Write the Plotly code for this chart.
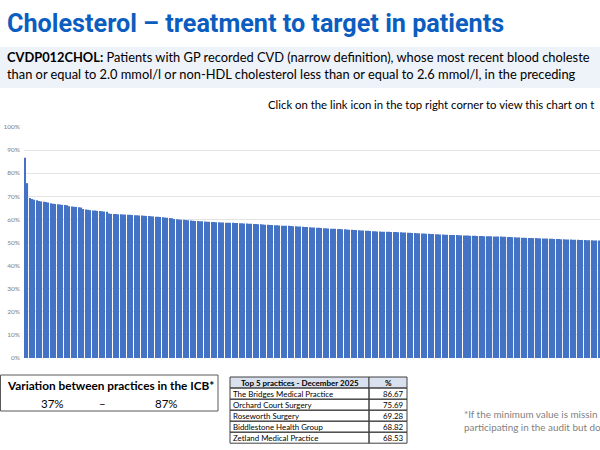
import plotly.graph_objects as go

# ---------------- data ----------------
values = [
    86.67, 75.69, 69.28, 68.82, 68.53,
    68.3, 68.0, 67.8, 67.6, 67.5, 67.3,
    67.0, 66.8, 66.7, 66.6, 66.5, 66.3, 66.2, 66.1,
    65.7, 65.6, 65.5, 65.4, 65.3, 65.2,
    64.5, 64.3, 64.2, 64.0, 63.9, 63.8, 63.7, 63.6, 63.5, 63.4, 63.3,
    62.6, 62.4, 62.3, 62.3, 62.2, 62.2, 62.1, 62.1, 62.0, 62.0, 61.9,
    61.8, 61.8, 61.7, 61.7, 61.6, 61.5, 61.5, 61.4, 61.3, 61.2, 61.1,
    61.0, 60.9, 60.8, 60.7, 60.6, 60.5,
    60.2, 60.1, 60.0, 59.9, 59.8, 59.7, 59.6, 59.5,
    59.4, 59.3, 59.3, 59.2, 59.2, 59.1, 59.0, 59.0, 58.9, 58.9,
    58.8, 58.8, 58.7, 58.7, 58.6, 58.6, 58.5, 58.5, 58.4, 58.4,
    58.3, 58.3, 58.2, 58.2, 58.1, 58.1, 58.0, 58.0, 57.9, 57.9,
    57.8, 57.7, 57.7, 57.6, 57.6, 57.5, 57.5, 57.4, 57.3, 57.3,
    57.2, 57.2, 57.1, 57.0, 57.0, 56.9, 56.9, 56.8, 56.7, 56.7,
    56.6, 56.5, 56.5, 56.4, 56.4, 56.3, 56.2, 56.2, 56.1, 56.0,
    56.0, 55.9, 55.8, 55.8, 55.7, 55.7, 55.6, 55.5, 55.5, 55.4,
    55.4, 55.3, 55.2, 55.2, 55.1, 55.1, 55.0, 54.9, 54.9, 54.8,
    54.8, 54.7, 54.7, 54.6, 54.6, 54.5, 54.5, 54.5, 54.4, 54.4,
    54.3, 54.3, 54.2, 54.2, 54.1, 54.1, 54.0, 54.0, 53.9, 53.9,
    53.8, 53.8, 53.7, 53.7, 53.6, 53.6, 53.5, 53.5, 53.4, 53.4,
    53.3, 53.3, 53.2, 53.2, 53.1, 53.1, 53.0, 53.0, 53.0, 52.9,
    52.9, 52.9, 52.8, 52.8, 52.8, 52.7, 52.7, 52.7, 52.7, 52.6,
    52.6, 52.6, 52.6,
    52.5, 52.5, 52.4, 52.4, 52.3, 52.3, 52.2, 52.2, 52.1, 52.1,
    52.0, 52.0, 51.9, 51.9, 51.9, 51.8, 51.8, 51.7, 51.7, 51.7,
    51.6, 51.6, 51.5, 51.5, 51.5, 51.4, 51.4, 51.3, 51.3, 51.3,
    51.2, 51.2, 51.2, 51.1, 51.1, 51.1, 51.0, 51.0, 51.0, 50.9, 50.9, 50.9,
]
practice_rank = list(range(1, len(values) + 1))

y_tick_values = [0, 10, 20, 30, 40, 50, 60, 70, 80, 90, 100]
y_tick_labels = ["0%", "10%", "20%", "30%", "40%", "50%", "60%", "70%", "80%", "90%", "100%"]

top5_header = ["Top 5 practices - December 2025", "%"]
top5_names = [
    "The Bridges Medical Practice",
    "Orchard Court Surgery",
    "Roseworth Surgery",
    "Biddlestone Health Group",
    "Zetland Medical Practice",
]
top5_values = ["86.67", "75.69", "69.28", "68.82", "68.53"]

variation_title = "Variation between practices in the ICB*"
variation_min = "37%"
variation_max = "87%"

# texts as far as they are visible in the (cropped) reference
title_text = "Cholesterol \u2013 treatment to target in patients"
subtitle_lines = [
    "<b>CVDP012CHOL:</b> Patients with GP recorded CVD (narrow definition), "
    "whose most recent blood choleste",
    "than or equal to 2.0 mmol/l or non-HDL cholesterol less than or equal to "
    "2.6 mmol/l, in the preceding",
]
link_note = "Click on the link icon in the top right corner to view this chart on t"
footnote_lines = [
    "*If the minimum value is missin",
    "participating in the audit but do",
]

# ---------------- layout helpers ----------------
W, H = 600, 450
ML, MR, MT, MB = 24, 0, 127, 92
PW = W - ML - MR
PH = H - MT - MB
FONT = "Lato"


def px(x):
    return (x - ML) / PW


def py(y):
    return (H - MB - y) / PH


fig = go.Figure()
fig.add_trace(go.Bar(
    x=practice_rank,
    y=values,
    marker=dict(color="#4472C4", line=dict(width=0)),
    hoverinfo="skip",
))

annotations = []
shapes = []


def text(x, y, s, size, color="#000000", xanchor="left", bold=False, family=FONT, align="left"):
    annotations.append(dict(
        x=px(x), y=py(y), xref="paper", yref="paper",
        text=("<b>%s</b>" % s) if bold else s,
        showarrow=False, xanchor=xanchor, yanchor="middle", align=align,
        font=dict(family=family, size=size, color=color),
        borderpad=0,
    ))


def rect(x0, y0, x1, y1, fill="rgba(0,0,0,0)", line="#404040", lw=1):
    shapes.append(dict(
        type="rect", xref="paper", yref="paper",
        x0=px(x0), x1=px(x1), y0=py(y0), y1=py(y1),
        fillcolor=fill, line=dict(color=line, width=lw), layer="above",
    ))


# header band
shapes.append(dict(type="rect", xref="paper", yref="paper",
                   x0=px(0), x1=px(W), y0=py(47), y1=py(88),
                   fillcolor="#EEF2F9", line=dict(width=0), layer="below"))

text(6, 23.5, title_text, 25.2, color="#0B5DBF", bold=True, family="Roboto")
text(6, 66, "<br>".join(subtitle_lines), 12.85)
text(267, 105, link_note, 11.35)

# variation box
rect(0.5, 375, 218, 411, line="#595959")
text(110, 385, variation_title, 11.8, xanchor="center", bold=True)
text(52, 403, variation_min, 11.5, xanchor="center")
text(102, 403, "\u2013", 11.5, xanchor="center")
text(166, 403, variation_max, 11.5, xanchor="center")

# top 5 table
tx0, tx1, tx2 = 230, 369, 407
row_edges = [377, 388, 399.2, 410.2, 421.2, 432.2, 443.2]
rect(tx0, row_edges[0], tx1, row_edges[1], fill="#D9E1EE")
rect(tx1, row_edges[0], tx2, row_edges[1], fill="#D9E1EE")
for r in range(1, len(row_edges) - 1):
    rect(tx0, row_edges[r], tx1, row_edges[r + 1])
    rect(tx1, row_edges[r], tx2, row_edges[r + 1])
hc = (row_edges[0] + row_edges[1]) / 2
text((tx0 + tx1) / 2, hc, top5_header[0], 8.0, xanchor="center", bold=True)
text((tx1 + tx2) / 2, hc, top5_header[1], 8.0, xanchor="center", bold=True)
for i, (n, v) in enumerate(zip(top5_names, top5_values)):
    yc = (row_edges[i + 1] + row_edges[i + 2]) / 2
    text(tx0 + 2, yc, n, 7.9)
    text(tx2 - 2, yc, v, 7.9, xanchor="right")

# footnote
text(463, 420, "<br>".join(footnote_lines), 9.9, color="#7F7F7F")

fig.update_layout(
    width=W, height=H,
    margin=dict(l=ML, r=MR, t=MT, b=MB, pad=0),
    paper_bgcolor="white", plot_bgcolor="white",
    showlegend=False,
    bargap=0.5,
    annotations=annotations,
    shapes=shapes,
    xaxis=dict(
        range=[0.5, len(values) + 0.5],
        showticklabels=False, showgrid=False, zeroline=False, showline=False,
        ticks="", fixedrange=True,
    ),
    yaxis=dict(
        range=[0, 100],
        tickvals=y_tick_values, ticktext=y_tick_labels,
        tickfont=dict(family=FONT, size=6.5, color="#808080"),
        showgrid=True, gridcolor="#E3E3E3", gridwidth=1,
        zeroline=False, showline=False, ticks="",
        ticklabelstandoff=3, automargin=False, fixedrange=True,
    ),
)

fig.write_html("out.html", config={"displayModeBar": False})
